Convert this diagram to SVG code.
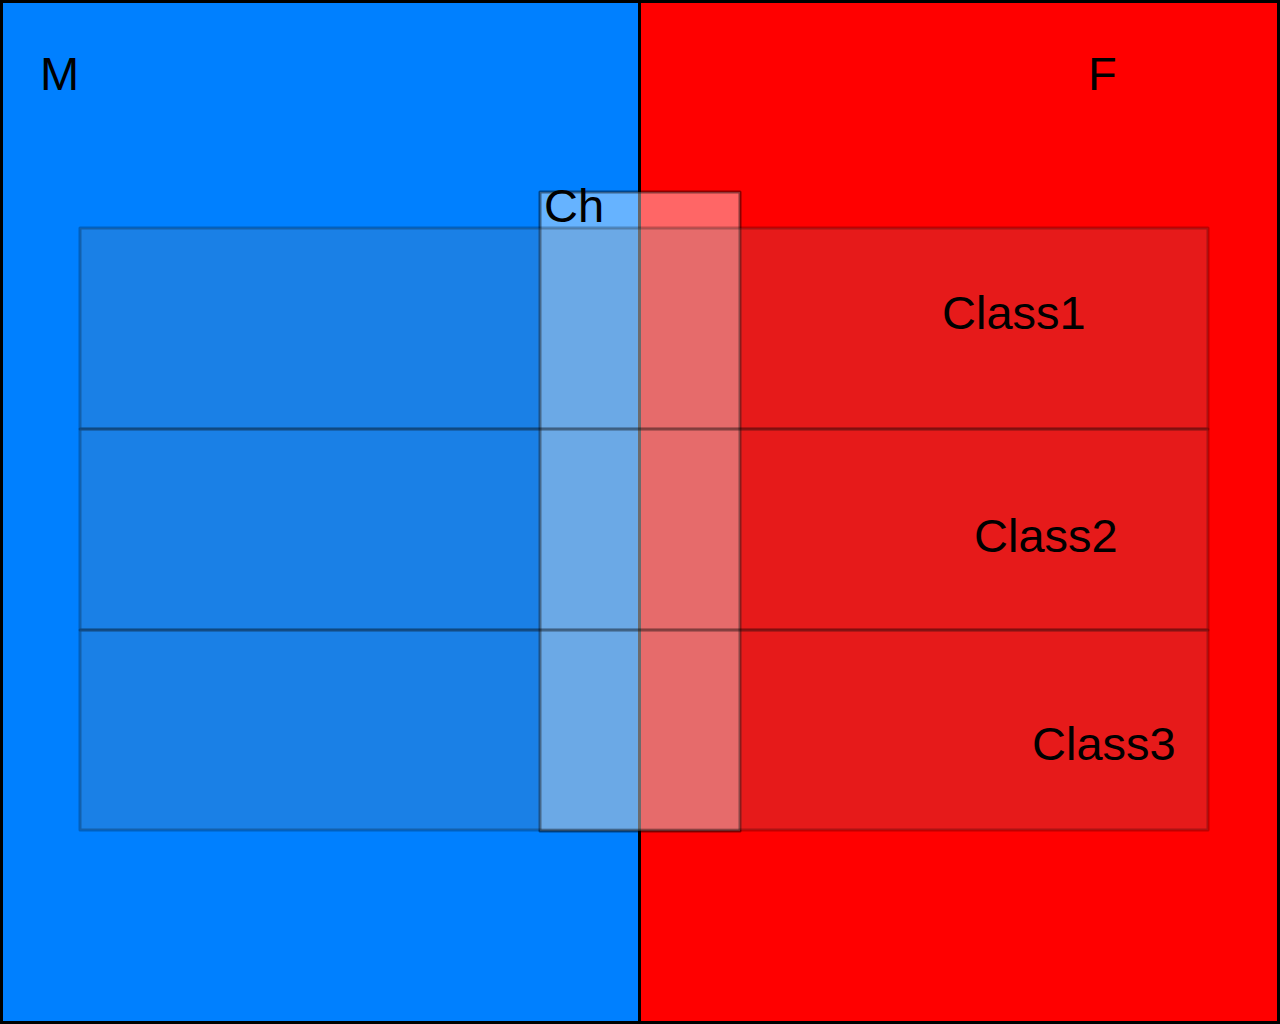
<svg xmlns="http://www.w3.org/2000/svg" width="1280" height="1024" viewBox="0 0 1280 1024">
<style>
text{font-family:"Liberation Sans",Arial,sans-serif;font-size:47px;fill:#000}
.cls{fill:#808080;fill-opacity:0.2;stroke:#000;stroke-opacity:0.25;stroke-width:3;stroke-linejoin:round}
.ch{fill:#fff;fill-opacity:0.4;stroke:#000;stroke-opacity:0.45;stroke-width:3;stroke-linejoin:round}
</style>
<g id="M"><rect x="1.5" y="1.5" width="638" height="1021" fill="#0080ff" stroke="#000" stroke-width="3"/><text x="40" y="90">M</text></g>
<g id="F"><rect x="639.5" y="1.5" width="639" height="1021" fill="#ff0000" stroke="#000" stroke-width="3"/><text x="1088" y="90">F</text></g>
<g id="Ch"><rect class="ch" x="540" y="192" width="200" height="639"/><text x="544" y="222">Ch</text></g>
<g id="Class1"><rect class="cls" x="80" y="228" width="1128" height="201"/><text x="942" y="329">Class1</text></g>
<g id="Class2"><rect class="cls" x="80" y="429" width="1128" height="201"/><text x="974" y="552">Class2</text></g>
<g id="Class3"><rect class="cls" x="80" y="630" width="1128" height="200"/><text x="1032" y="760">Class3</text></g>
<g id="connectors"/>
</svg>
